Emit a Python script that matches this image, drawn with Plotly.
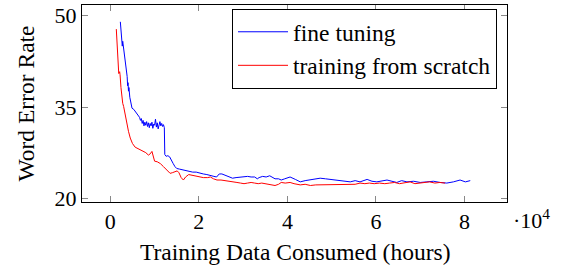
import plotly.graph_objects as go

# x in units of 10^4 hours, y = word error rate
ft_x = [0.226, 0.24, 0.26, 0.27, 0.28, 0.30, 0.32, 0.34, 0.36, 0.38, 0.39, 0.40, 0.41, 0.42, 0.44, 0.46,
        0.49, 0.53, 0.57, 0.60, 0.63, 0.66, 0.68, 0.70, 0.72, 0.74, 0.76, 0.78, 0.80, 0.82, 0.84, 0.86,
        0.88, 0.90, 0.92, 0.94, 0.96, 0.98, 1.00, 1.02, 1.04, 1.06, 1.08, 1.10, 1.12, 1.14, 1.16, 1.18,
        1.20, 1.22, 1.23, 1.26, 1.30, 1.34, 1.38, 1.42, 1.46, 1.50, 1.56, 1.62, 1.70, 1.78, 1.86, 1.94,
        2.02, 2.10, 2.18, 2.26, 2.34, 2.40, 2.46, 2.52, 2.60, 2.68, 2.76, 2.84, 2.94, 3.02, 3.10, 3.18,
        3.26, 3.32, 3.36, 3.44, 3.52, 3.60, 3.66, 3.72, 3.80, 3.86, 3.94, 4.06, 4.18, 4.29, 4.40, 4.52,
        4.63, 4.74, 4.86, 4.97, 5.08, 5.19, 5.30, 5.42, 5.53, 5.64, 5.80, 5.91, 6.02, 6.14, 6.25, 6.36,
        6.47, 6.58, 6.70, 6.85, 7.00, 7.15, 7.30, 7.45, 7.60, 7.75, 7.90, 8.02, 8.13]
ft_y = [49.0, 47.5, 46.6, 45.0, 45.8, 44.6, 43.5, 42.7, 41.2, 40.0, 38.5, 39.0, 37.6, 38.2, 36.6, 35.6,
        34.8, 34.6, 34.2, 34.0, 33.6, 33.3, 32.8, 33.1, 32.3, 32.8, 31.9, 32.5, 32.0, 32.6, 31.8, 32.4,
        31.6, 32.3, 31.9, 32.5, 31.5, 32.2, 32.0, 33.0, 31.7, 32.4, 31.4, 32.1, 32.6, 31.9, 32.3, 31.8,
        32.1, 31.6, 27.2, 26.9, 27.0, 26.8, 26.1, 25.7, 25.2, 24.9, 24.8, 24.7, 24.6, 24.5, 24.3, 24.3,
        24.1, 24.0, 23.9, 23.8, 23.6, 23.5, 24.0, 24.0, 23.8, 23.6, 23.3, 23.4, 23.5, 23.5, 23.6, 23.5,
        23.5, 23.2, 23.4, 23.6, 23.5, 23.7, 23.4, 23.2, 23.2, 23.0, 23.2, 23.5, 23.1, 22.7, 22.9, 23.0,
        23.1, 23.3, 23.2, 23.1, 23.0, 22.9, 22.8, 22.7, 22.9, 22.7, 23.1, 22.8, 22.7, 22.9, 23.0, 22.8,
        22.6, 22.9, 22.7, 22.8, 22.6, 22.7, 22.8, 22.6, 22.5, 22.7, 23.0, 22.7, 22.9]

sc_x = [0.135, 0.15, 0.17, 0.19, 0.21, 0.22, 0.24, 0.26, 0.28, 0.30, 0.33, 0.36, 0.38, 0.41, 0.45, 0.50,
        0.56, 0.62, 0.68, 0.74, 0.80, 0.86, 0.90, 0.94, 0.97, 1.00, 1.06, 1.13, 1.20, 1.24, 1.30, 1.35,
        1.40, 1.46, 1.51, 1.55, 1.60, 1.65, 1.70, 1.77, 1.85, 1.95, 2.03, 2.10, 2.20, 2.26, 2.33, 2.41,
        2.50, 2.60, 2.70, 2.78, 2.86, 2.94, 3.02, 3.10, 3.18, 3.26, 3.34, 3.42, 3.50, 3.58, 3.66, 3.72,
        3.80, 3.86, 3.95, 4.06, 4.15, 4.29, 4.40, 4.52, 4.64, 4.74, 4.86, 4.97, 5.08, 5.19, 5.30, 5.42,
        5.53, 5.64, 5.75, 5.85, 5.96, 6.08, 6.20, 6.31, 6.42, 6.53, 6.65, 6.77, 6.88, 7.00, 7.10, 7.21,
        7.33, 7.44, 7.56]
sc_y = [47.8, 45.0, 42.5, 40.5, 40.8, 40.3, 38.2, 36.4, 35.6, 35.1, 33.8, 33.0, 32.3, 31.0, 29.9, 29.0,
        28.4, 28.2, 28.0, 27.7, 27.5, 27.1, 27.3, 27.7, 26.6, 26.1, 26.0, 25.7, 25.2, 24.9, 24.4, 24.1,
        24.2, 24.3, 24.5, 24.2, 23.4, 23.0, 23.5, 23.9, 23.8, 23.6, 23.5, 23.4, 23.4, 23.5, 23.2, 23.0,
        23.0, 22.9, 22.8, 22.8, 22.6, 22.5, 22.4, 22.5, 22.6, 22.5, 22.4, 22.5, 22.4, 22.3, 22.2, 22.1,
        22.3, 22.6, 22.5, 22.6, 22.4, 22.2, 22.3, 22.1, 22.2, 22.2, 22.3, 22.3, 22.2, 22.3, 22.3, 22.2,
        22.3, 22.5, 22.4, 22.5, 22.4, 22.5, 22.4, 22.5, 22.6, 22.4, 22.6, 22.7, 22.4, 22.5, 22.6, 22.7,
        22.5, 22.6, 22.5]

x_ticks = [0, 2, 4, 6, 8]
y_ticks = [20, 35, 50]
names = ["fine tuning", "training from scratch"]
x_title = "Training Data Consumed (hours)"
y_title = "Word Error Rate"

FONT = "Liberation Serif"
L, R, T, B = 82, 56, 5, 64
W, H = 563, 266
PW, PH = W - L - R, H - T - B

fig = go.Figure()
fig.add_trace(go.Scatter(x=ft_x, y=ft_y, mode="lines", name=names[0],
                         line=dict(color="#0000ff", width=1)))
fig.add_trace(go.Scatter(x=sc_x, y=sc_y, mode="lines", name=names[1],
                         line=dict(color="#ff0000", width=1)))

axis_common = dict(showline=True, linecolor="black", linewidth=1, mirror="ticks",
                   ticks="inside", ticklen=6, tickcolor="#888888", tickwidth=1,
                   showgrid=False, zeroline=False, automargin=False,
                   tickfont=dict(family=FONT, size=22, color="black"))

fig.update_layout(
    width=W, height=H,
    margin=dict(l=L, r=R, t=T, b=B, autoexpand=False),
    plot_bgcolor="white", paper_bgcolor="white",
    font=dict(family=FONT, size=22, color="black"),
    xaxis=dict(range=[-0.64, 8.96], tickvals=x_ticks, ticktext=[str(v) for v in x_ticks],
               **axis_common),
    yaxis=dict(range=[19.39, 51.76], tickvals=y_ticks, ticktext=[str(v) for v in y_ticks],
               **axis_common),
    legend=dict(x=(497 - L) / PW, y=1 - (9 - T) / PH, xanchor="right", yanchor="top",
                bordercolor="black", borderwidth=1, bgcolor="white",
                font=dict(family=FONT, size=23.5), itemwidth=50),
    showlegend=True,
)
fig.add_annotation(text=x_title, xref="paper", yref="paper", x=0.5, y=1 - (252 - T) / PH,
                   xanchor="center", yanchor="middle", showarrow=False,
                   font=dict(family=FONT, size=23.5, color="black"))
fig.add_annotation(text=y_title, xref="paper", yref="paper", x=(25 - L) / PW, y=0.5,
                   xanchor="center", yanchor="middle", textangle=-90, showarrow=False,
                   font=dict(family=FONT, size=23.5, color="black"))
fig.add_annotation(text="·10<sup>4</sup>", xref="paper", yref="paper", x=(511 - L) / PW,
                   y=1 - (203 - T) / PH, xanchor="left", yanchor="top", showarrow=False,
                   font=dict(family=FONT, size=22, color="black"))

fig.write_html("out.html", config={"displayModeBar": False},
               post_script="document.body.style.margin='0px';document.body.style.padding='0px';")
